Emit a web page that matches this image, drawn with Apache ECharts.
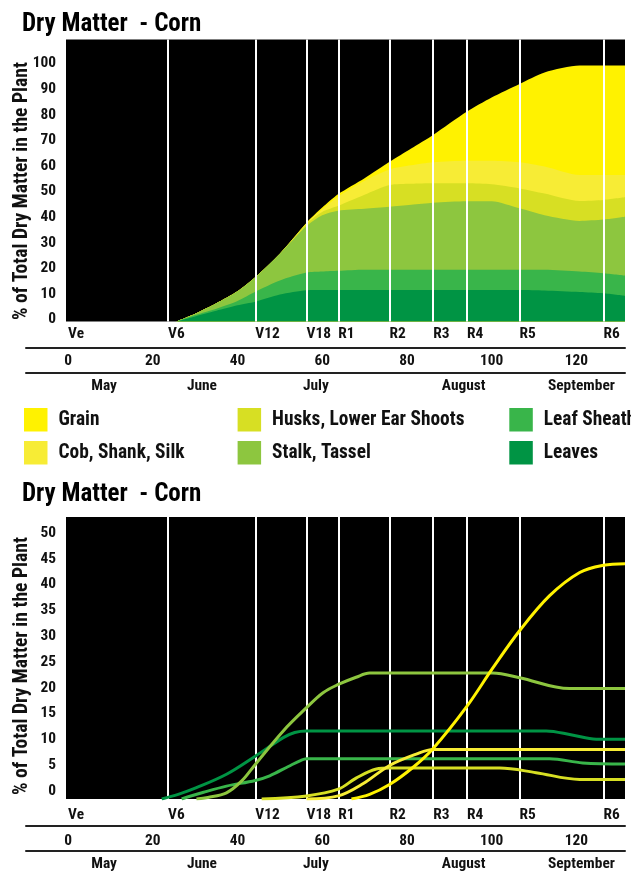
<!DOCTYPE html>
<html><head><meta charset="utf-8">
<script src="https://cdn.jsdelivr.net/npm/echarts@6/dist/echarts.min.js"></script>
<style>html,body{margin:0;padding:0;background:#fff}#c{width:631px;height:874px}</style>
</head><body><div id="c"></div>
<script>
// ---------- data ----------
const stageNames = ['Ve','V6','V12','V18','R1','R2','R3','R4','R5','R6'];
const stageDays  = [0, 23.6, 44.2, 56.3, 63.8, 75.9, 86.2, 94.2, 106.6, 126.4];
const dayTicks   = [0, 20, 40, 60, 80, 100, 120];
const monthNames = ['May','June','July','August','September'];
const monthDays  = [8.5, 31.6, 58.5, 93.4, 121.2];
const topTicks   = [0,10,20,30,40,50,60,70,80,90,100];
const botTicks   = [0,5,10,15,20,25,30,35,40,45,50];

const seriesNames = ['Leaves','Leaf Sheath','Stalk, Tassel','Husks, Lower Ear Shoots','Cob, Shank, Silk','Grain'];
const seriesColors = ['#009444','#39B54A','#8DC63F','#D7DF23','#F7EC35','#FFF200'];

// top chart: stacked % of total dry matter (each part)
const topDays    = [25.6, 30, 35, 40, 44.2, 50, 56.3, 60, 63.8, 70, 75.9, 81, 86.2, 94.2, 100, 106.6, 112.5, 120.8, 126.4, 131.5];
const topLeaves  = [0, 2.0, 4.2, 6.3, 7.7, 10.5, 12.2, 12.3, 12.3, 12.3, 12.3, 12.3, 12.3, 12.3, 12.3, 12.3, 12.1, 11.5, 11.0, 10.0];
const topSheath  = [0, 0.5, 0.8, 1.7, 3.9, 5.5, 6.9, 7.2, 7.5, 7.9, 7.9, 7.9, 7.9, 7.9, 7.9, 7.9, 8.1, 8.0, 7.8, 7.9];
const topStalk   = [0, 0.5, 2.1, 3.8, 5.7, 10.5, 18.2, 22.0, 23.5, 23.8, 24.6, 25.4, 26.2, 26.8, 26.8, 24.0, 21.3, 19.8, 21.0, 23.0];
const topHusks   = [0, 0, 0, 0, 0, 0, 0.9, 1.3, 1.9, 5.5, 8.5, 8.2, 7.6, 7.0, 6.6, 7.8, 8.5, 7.8, 7.7, 7.6];
const topCob     = [0, 0, 0, 0, 0, 0, 0.2, 1.0, 3.6, 5.5, 6.1, 7.2, 8.2, 8.8, 9.2, 10.2, 10.5, 10.1, 9.7, 8.7];
const topGrain   = [0, 0, 0, 0, 0, 0, 0.2, 0.7, 1.0, 1.0, 3.0, 6.6, 10.7, 19.2, 24.7, 30.6, 36.8, 42.8, 42.8, 42.8];

// bottom chart: each part separately, [day, %]
const botLeaves = [[22.1,0],[26,0.9],[30.3,2.2],[37.4,4.8],[44.2,8.3],[50.8,11.9],[53.5,12.9],[56.3,13.2],[112.9,13.2],[119,12.4],[124.7,11.6],[131.5,11.6]];
const botSheath = [[26.8,0],[32,1.3],[37.4,2.5],[44.2,3.6],[47.6,4.5],[52,6.3],[55,7.5],[56.3,7.8],[113.7,7.8],[121.5,7.0],[131.5,6.8]];
const botStalk  = [[30.3,0],[33,0.3],[37.4,1.2],[41,3.5],[44.2,6.7],[50.8,13.2],[56.3,17.7],[60.2,20.6],[63.8,22.2],[68,23.6],[71.2,24.4],[100.3,24.4],[106.6,23.5],[118.4,21.4],[131.5,21.4]];
const botHusks  = [[45.7,0],[56.3,0.6],[63.8,1.9],[68.1,4.1],[72.8,5.8],[75.9,6.0],[101.9,6.0],[110.5,5.1],[120.8,3.8],[131.5,3.8]];
const botCob    = [[56.3,0],[63.8,0.6],[69.7,3.0],[75.9,6.5],[82.2,8.7],[86.2,9.6],[131.5,9.6]];
const botGrain  = [[66.9,0],[71.2,0.9],[75.9,2.8],[81.4,6.1],[86.2,9.8],[94.2,18.0],[100.3,25.4],[106.6,32.6],[113.7,39.4],[120.8,43.9],[126.4,45.3],[131.5,45.6]];

// ---------- fonts ----------
const FAM = '"Roboto Condensed", "DejaVu Sans Condensed", sans-serif';
const ctx = document.createElement('canvas').getContext('2d');
const measure = (text, size) => { ctx.font = 'bold ' + size + 'px ' + FAM; return ctx.measureText(text).width; };
const fit = (text, target, nominal) => nominal * target / measure(text, nominal);
const SZ_TITLE  = 25;
const SZ_TICK   = fit('100', 23.3, 16);
const SZ_NAME   = fit('% of Total Dry Matter in the Plant', 258, 16);
const SZ_LEGEND = fit('Husks, Lower Ear Shoots', 192.5, 16);
const SZ_MONTH  = fit('September', 67, 16);

// ---------- layout ----------
const W = 631, PL = 66, PR = 6, TL = 26;
const XMIN = -0.5, XMAX = 131.5;
const pxPerDay = (W - PL - PR) / (XMAX - XMIN);
const XMIN_TABLE = XMIN - (PL - TL) / pxPerDay;

const txt = (size, extra) => Object.assign({fontFamily: FAM, fontWeight: 'bold', fontSize: size, color: '#111'}, extra || {});
const lookup = (vals, names) => v => { for (let i = 0; i < vals.length; i++) if (Math.abs(vals[i] - v) < 1e-6) return names[i]; return ''; };

const chart = echarts.init(document.getElementById('c'), null, {renderer: 'canvas'});

function stageAxis(grid, margin) {
  return {type: 'value', gridIndex: grid, min: XMIN, max: XMAX, position: 'bottom',
    axisLine: {show: false}, axisTick: {show: false}, splitLine: {show: false},
    axisLabel: Object.assign(txt(SZ_TICK), {customValues: stageDays, formatter: lookup(stageDays, stageNames), align: 'left', margin: margin})};
}
function dayAxis(grid, margin) {
  return {type: 'value', gridIndex: grid, min: XMIN_TABLE, max: XMAX, position: 'top',
    axisLine: {show: true, onZero: false, lineStyle: {color: '#222', width: 2}}, axisTick: {show: false}, splitLine: {show: false},
    axisLabel: Object.assign(txt(SZ_TICK), {customValues: dayTicks, inside: true, margin: margin})};
}
function monthAxis(grid, margin) {
  return {type: 'value', gridIndex: grid, min: XMIN_TABLE, max: XMAX, position: 'bottom',
    axisLine: {show: true, onZero: false, lineStyle: {color: '#222', width: 2}}, axisTick: {show: false}, splitLine: {show: false},
    axisLabel: Object.assign(txt(SZ_MONTH), {customValues: monthDays, formatter: lookup(monthDays, monthNames), margin: margin})};
}
function valueAxis(grid, max, ticks, shift, namePad) {
  return {type: 'value', gridIndex: grid, min: 0, max: max,
    axisLine: {show: false}, axisTick: {show: false}, splitLine: {show: false},
    axisLabel: Object.assign(txt(SZ_TICK), {customValues: ticks, margin: 10, verticalAlign: 'bottom', lineHeight: shift * 2}),
    name: '% of Total Dry Matter in the Plant', nameLocation: 'middle', nameGap: 34, nameRotate: 90, nameMoveOverlap: false,
    nameTextStyle: Object.assign(txt(SZ_NAME), {padding: namePad})};
}
const hiddenY = g => ({type: 'value', gridIndex: g, show: false, min: 0, max: 1});

const series = [];
// top chart: cumulative boundaries, drawn from the top layer down so lower layers cover upper fills
const topVals = [topLeaves, topSheath, topStalk, topHusks, topCob, topGrain];
const cumul = topVals.map((_, k) => topDays.map((d, j) => {
  let s = 0; for (let i = 0; i <= k; i++) s += topVals[i][j]; return [d, +s.toFixed(2)];
}));
for (let k = topVals.length - 1; k >= 0; k--) {
  series.push({type: 'line', name: seriesNames[k], xAxisIndex: 0, yAxisIndex: 0,
    data: cumul[k], smooth: 0.25, showSymbol: false, symbol: 'none',
    color: seriesColors[k], lineStyle: {width: 0}, areaStyle: {color: seriesColors[k], opacity: 1, origin: 'start'}, z: 2});
}
const stageLines = {silent: true, symbol: ['none', 'none'], label: {show: false},
  lineStyle: {color: '#fff', width: 2, type: 'solid', opacity: 1}, emphasis: {disabled: true},
  data: stageDays.slice(1).map(d => ({xAxis: d}))};
series.push({type: 'line', xAxisIndex: 0, yAxisIndex: 0, data: [], markLine: Object.assign({z: 5}, stageLines)});
series.push({type: 'line', xAxisIndex: 3, yAxisIndex: 2, data: [], markLine: Object.assign({z: 1}, stageLines)});
const botVals = [botLeaves, botSheath, botStalk, botHusks, botCob, botGrain];
botVals.forEach((pts, i) => {
  series.push({type: 'line', name: seriesNames[i], xAxisIndex: 3, yAxisIndex: 2,
    data: pts, smooth: 0.35, showSymbol: false, symbol: 'none',
    color: seriesColors[i], lineStyle: {width: 3, color: seriesColors[i]}, z: 3});
});

function legend(left, names) {
  return {left: left, top: 408, orient: 'vertical', icon: 'rect', itemWidth: 23.5, itemHeight: 23.5, itemGap: 9.5,
    padding: 0, selectedMode: false, data: names,
    textStyle: Object.assign(txt(SZ_LEGEND), {padding: [8, 0, 0, 6], lineHeight: 14})};
}

chart.setOption({
  animation: false,
  backgroundColor: '#fff',
  title: [
    {text: 'Dry Matter  - Corn', left: 22, top: 12, padding: 0, textStyle: txt(SZ_TITLE, {color: '#000'})},
    {text: 'Dry Matter  - Corn', left: 22, top: 482, padding: 0, textStyle: txt(SZ_TITLE, {color: '#000'})}
  ],
  legend: [
    legend(24, ['Grain', 'Cob, Shank, Silk']),
    legend(237.6, ['Husks, Lower Ear Shoots', 'Stalk, Tassel']),
    legend(509.3, ['Leaf Sheath', 'Leaves'])
  ],
  grid: [
    {left: PL, right: PR, top: 39.5, height: 282, show: true, backgroundColor: '#000', borderWidth: 0, outerBoundsMode: 'none'},
    {left: TL, right: PR, top: 347.7, height: 24.6, outerBoundsMode: 'none'},
    {left: PL, right: PR, top: 517, height: 282, show: true, backgroundColor: '#000', borderWidth: 0, outerBoundsMode: 'none'},
    {left: TL, right: PR, top: 826, height: 25, outerBoundsMode: 'none'}
  ],
  xAxis: [
    stageAxis(0, 5.5), dayAxis(1, 5.5), monthAxis(1, 6.5),
    stageAxis(2, 8.5), dayAxis(3, 8), monthAxis(3, 6)
  ],
  yAxis: [
    valueAxis(0, 282 / 2.56, topTicks, 2, [0, 21, 0, 0]), hiddenY(1),
    valueAxis(2, 282 / 5.16, botTicks, 8, [0, 16, 0, 0]), hiddenY(3)
  ],
  series: series
});
</script></body></html>
